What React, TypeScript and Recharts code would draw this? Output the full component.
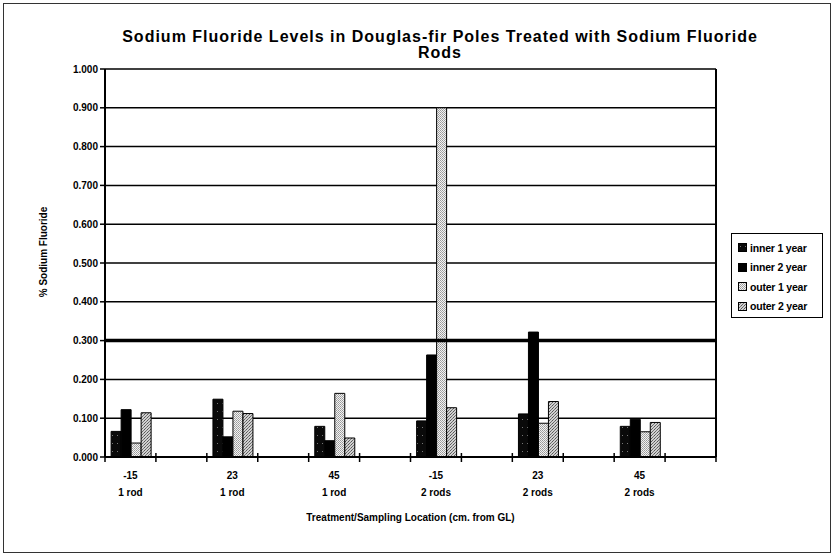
import { BarChart, Bar, XAxis, YAxis, CartesianGrid, ReferenceLine, Legend } from 'recharts';

const sites = ['-15', '23', '45', '-15', '23', '45'];
const treatments = ['1 rod', '1 rod', '1 rod', '2 rods', '2 rods', '2 rods'];
const inner1 = [0.066, 0.149, 0.079, 0.093, 0.111, 0.079];
const inner2 = [0.122, 0.052, 0.042, 0.263, 0.322, 0.097];
const outer1 = [0.036, 0.118, 0.164, 0.9, 0.087, 0.065];
const outer2 = [0.114, 0.112, 0.049, 0.127, 0.143, 0.089];
const yTicks = [0, 0.1, 0.2, 0.3, 0.4, 0.5, 0.6, 0.7, 0.8, 0.9, 1];
const threshold = 0.3;

// every group is followed by an empty slot, like the original sheet
const rows: any[] = [];
sites.forEach((s, i) => {
  rows.push({ key: 'g' + i, site: s, rods: treatments[i], inner1: inner1[i], inner2: inner2[i], outer1: outer1[i], outer2: outer2[i] });
  rows.push({ key: 'gap' + i, site: '', rods: '' });
});

const W = 834;
const H = 554;
const M = { top: 69, right: 117, left: 0, bottom: 0 };
const Y_W = 105;
const PLOT_W = W - M.right - 1 - Y_W;
const BAND = PLOT_W / rows.length;
const FONT = '"Liberation Sans", Arial, sans-serif';

function XTick(props: any) {
  const { x, y, index } = props;
  const row = rows[index];
  const left = x - BAND / 2;
  return (
    <g>
      <line x1={left} x2={left} y1={y - 4} y2={y + 5} stroke="#000" strokeWidth={1.5} />
      {index === rows.length - 1 && (
        <line x1={x + BAND / 2} x2={x + BAND / 2} y1={y - 4} y2={y + 5} stroke="#000" strokeWidth={1.5} />
      )}
      {row.site !== '' && (
        <text x={x} y={y} textAnchor="middle" fontSize={10} fontWeight="bold" fontFamily={FONT} fill="#000">
          <tspan x={x} dy={22}>{row.site}</tspan>
          <tspan x={x} dy={17}>{row.rods}</tspan>
        </text>
      )}
    </g>
  );
}

function YTitle() {
  return (
    <text x={47} y={252} transform="rotate(-90 47 252)" textAnchor="middle" fontSize={10} fontWeight="bold" fontFamily={FONT} fill="#000">
      % Sodium Fluoride
    </text>
  );
}

function LegendBox(props: any) {
  const { payload } = props;
  return (
    <div style={{ padding: '4px 0 0 6px' }}>
      {payload.map((p: any) => (
        <div key={p.value} style={{ display: 'flex', alignItems: 'center', height: 19.5, fontSize: 10.5, fontWeight: 'bold', fontFamily: FONT, color: '#000', whiteSpace: 'nowrap', letterSpacing: -0.2 }}>
          <svg width={9} height={9} style={{ marginRight: 3 }}>
            <rect x={0.5} y={0.5} width={8} height={8} fill={p.color} stroke="#000" strokeWidth={1} />
          </svg>
          {p.value}
        </div>
      ))}
    </div>
  );
}

export default function App() {
  return (
    <div style={{ position: 'relative', width: W, height: H, background: '#fff', fontFamily: FONT }}>
      <style>{'body{margin:0}'}</style>
      <div style={{ position: 'absolute', left: 3, top: 3, width: 826, height: 548, border: '1px solid #333' }} />
      <div style={{ position: 'absolute', left: 40, width: 800, top: 29, textAlign: 'center', fontSize: 16, fontWeight: 'bold', lineHeight: '16px', letterSpacing: 1, color: '#000' }}>
        Sodium Fluoride Levels in Douglas-fir Poles Treated with Sodium Fluoride<br />Rods
      </div>
      <div style={{ position: 'absolute', left: 0, top: 0 }}>
        <BarChart width={W} height={H} data={rows} margin={M} barCategoryGap="12%" barGap={0}>
          <defs>
            <pattern id="pInner1" width="5" height="8" patternUnits="userSpaceOnUse">
              <rect width="5" height="8" fill="#0a0a0a" />
              <rect x="2" y="3" width="1" height="1" fill="#777" />
            </pattern>
            <pattern id="pOuter1" width="2" height="2" patternUnits="userSpaceOnUse">
              <rect width="2" height="2" fill="#f2f2f2" />
              <rect width="1" height="1" fill="#999" />
              <rect x="1" y="1" width="1" height="1" fill="#aaa" />
            </pattern>
            <pattern id="pOuter2" width="3" height="3" patternUnits="userSpaceOnUse">
              <rect width="3" height="3" fill="#d0d0d0" />
              <rect width="1" height="1" fill="#555" />
              <rect x="2" y="1" width="1" height="1" fill="#777" />
              <rect x="1" y="2" width="1" height="1" fill="#666" />
            </pattern>
          </defs>
          <CartesianGrid vertical={false} stroke="#000" strokeWidth={1.5} />
          <XAxis dataKey="key" interval={0} height={97} tickSize={0} tickMargin={0} tick={<XTick />}
            axisLine={{ stroke: '#000', strokeWidth: 2 }}
            label={{ value: 'Treatment/Sampling Location (cm. from GL)', position: 'insideBottom', offset: 33, fontSize: 10, fontWeight: 'bold', fill: '#000', fontFamily: FONT }} />
          <YAxis width={Y_W} domain={[0, 1]} ticks={yTicks} interval={0} tickSize={5}
            tickFormatter={(v: number) => v.toFixed(3)}
            tick={{ fontSize: 10, fontWeight: 'bold', fill: '#000', fontFamily: FONT }}
            tickLine={{ stroke: '#000', strokeWidth: 1.5 }}
            axisLine={{ stroke: '#000', strokeWidth: 2 }}
            label={<YTitle />} />
          <YAxis yAxisId="r" orientation="right" width={1} domain={[0, 1]} tick={false} tickLine={false}
            axisLine={{ stroke: '#000', strokeWidth: 2 }} />
          <ReferenceLine y={threshold} stroke="#000" strokeWidth={3.5} />
          <Bar dataKey="inner1" name="inner 1 year" fill="url(#pInner1)" stroke="#000" strokeWidth={1} isAnimationActive={false} />
          <Bar dataKey="inner2" name="inner 2 year" fill="#000" stroke="#000" strokeWidth={1} isAnimationActive={false} />
          <Bar dataKey="outer1" name="outer 1 year" fill="url(#pOuter1)" stroke="#000" strokeWidth={1} isAnimationActive={false} />
          <Bar dataKey="outer2" name="outer 2 year" fill="url(#pOuter2)" stroke="#000" strokeWidth={1} isAnimationActive={false} />
          <Legend layout="vertical" align="center" verticalAlign="middle" content={<LegendBox />}
            wrapperStyle={{ left: 731, top: 233, width: 92, height: 85, border: '1.5px solid #000', background: '#fff', boxSizing: 'border-box' }} />
        </BarChart>
      </div>
    </div>
  );
}
